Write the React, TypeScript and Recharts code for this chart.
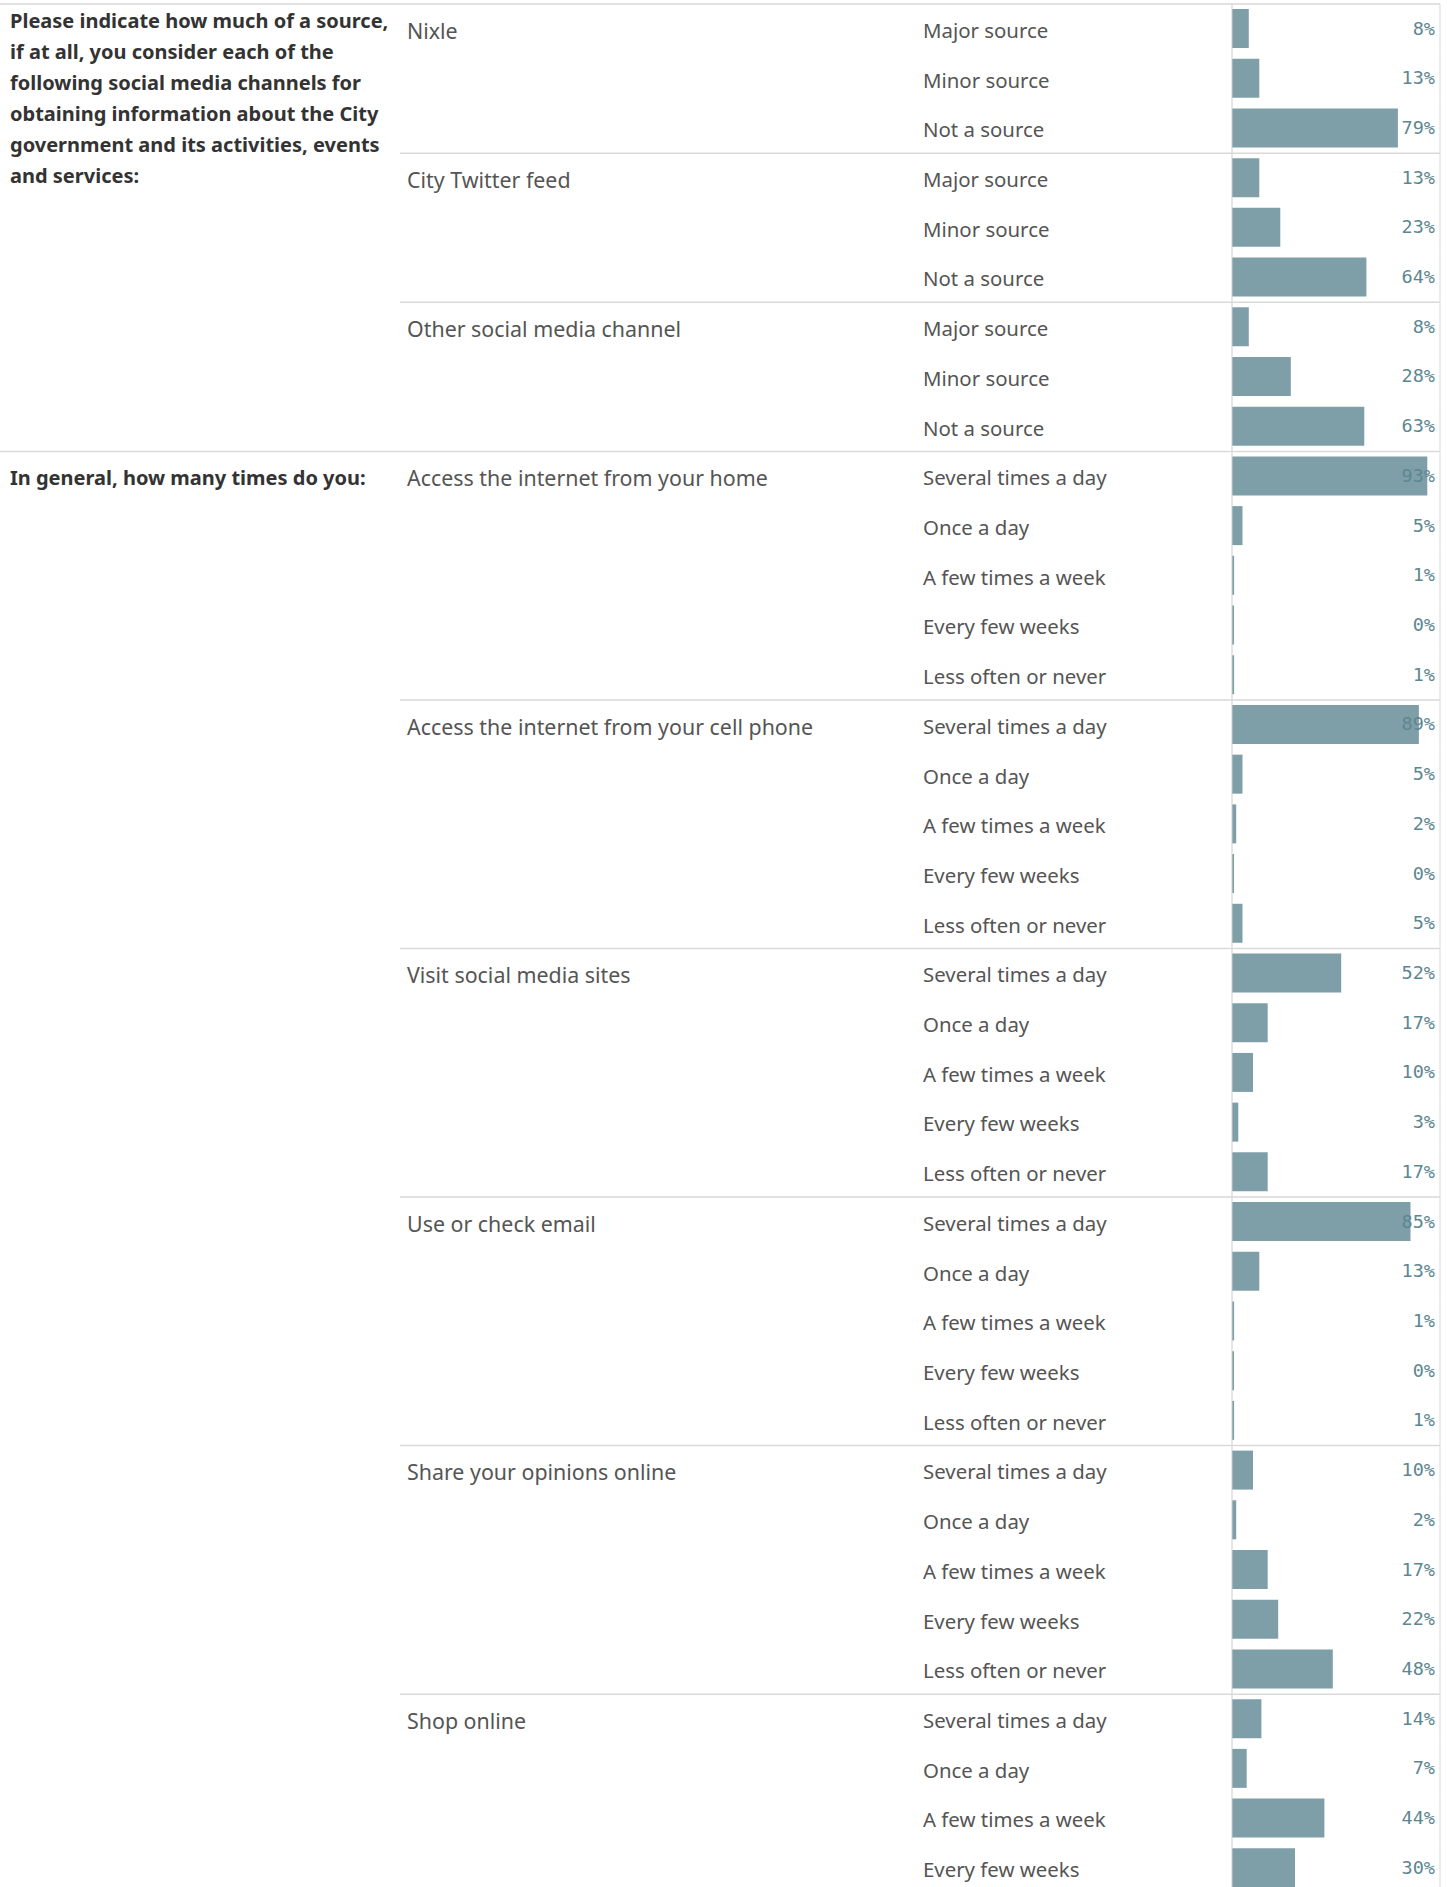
import { BarChart, Bar, XAxis, YAxis, LabelList } from "recharts";

const questionOneLines = [
  "Please indicate how much of a source,",
  "if at all, you consider each of the",
  "following social media channels for",
  "obtaining information about the City",
  "government and its activities, events",
  "and services:",
];
const questionTwoLines = ["In general, how many times do you:"];

const sourceLevels = ["Major source", "Minor source", "Not a source"];
const channels = ["Nixle", "City Twitter feed", "Other social media channel"];
const channelShares = [
  [8, 13, 79],
  [13, 23, 64],
  [8, 28, 63],
];

const frequencyLevels = [
  "Several times a day",
  "Once a day",
  "A few times a week",
  "Every few weeks",
  "Less often or never",
];
const activities = [
  "Access the internet from your home",
  "Access the internet from your cell phone",
  "Visit social media sites",
  "Use or check email",
  "Share your opinions online",
  "Shop online",
];
const activityShares = [
  [93, 5, 1, 0, 1],
  [89, 5, 2, 0, 5],
  [52, 17, 10, 3, 17],
  [85, 13, 1, 0, 1],
  [10, 2, 17, 22, 48],
  [14, 7, 44, 30],
];

type Row = {
  key: string;
  level: string;
  share: number;
  group: string | null;
  question: string[] | null;
  firstLineY: number;
};

const buildRows = (
  question: string[],
  firstLineY: number,
  groups: string[],
  levels: string[],
  shares: number[][]
): Row[] => {
  const out: Row[] = [];
  groups.forEach((group, g) => {
    shares[g].forEach((share, i) => {
      out.push({
        key: `${group}|${levels[i]}`,
        level: levels[i],
        share,
        group: i === 0 ? group : null,
        question: g === 0 && i === 0 ? question : null,
        firstLineY,
      });
    });
  });
  return out;
};

const rows: Row[] = [
  ...buildRows(questionOneLines, -1, channels, sourceLevels, channelShares),
  ...buildRows(questionTwoLines, 9, activities, frequencyLevels, activityShares),
];
const rowByKey = new Map(rows.map((r) => [r.key, r]));

const CHART_W = 1455;
const CHART_H = 1893;
const TOP = 4;
const AXIS_W = 1232;
const RIGHT_MARGIN = 13;
const ROW_H = (CHART_H - TOP) / rows.length;
const RIGHT_EDGE = 1440;
const GRID = "#d9d9d9";
const FONT = "'Noto Sans', 'Open Sans', sans-serif";

const RowTick = (props: any) => {
  const { y, payload } = props;
  const row = rowByKey.get(payload.value);
  if (!row) return null;
  const top = y - ROW_H / 2;
  return (
    <g>
      <line x1={RIGHT_EDGE} x2={RIGHT_EDGE} y1={top} y2={top + ROW_H} stroke={GRID} />
      {row.group ? (
        <line
          x1={row.question ? 0 : 400}
          x2={RIGHT_EDGE}
          y1={top}
          y2={top}
          stroke={GRID}
          strokeWidth={1.5}
        />
      ) : null}
      {row.question ? (
        <text
          x={10}
          y={y + row.firstLineY}
          fill="#333333"
          fontFamily={FONT}
          fontWeight={700}
          fontSize={20}
        >
          {row.question.map((line, i) => (
            <tspan key={i} x={10} dy={i === 0 ? 0 : 31}>
              {line}
            </tspan>
          ))}
        </text>
      ) : null}
      {row.group ? (
        <text x={407} y={y + 10} fill="#555555" fontFamily={FONT} fontSize={21.4}>
          {row.group}
        </text>
      ) : null}
      <text x={923} y={y + 9} fill="#555555" fontFamily={FONT} fontSize={20.4}>
        {row.level}
      </text>
    </g>
  );
};

const ShareLabel = (props: any) => {
  const { y, height, value } = props;
  return (
    <text
      x={1435}
      y={y + height / 2 + 6}
      textAnchor="end"
      fill="#5c8791"
      fontFamily="'DejaVu Sans Mono', monospace"
      fontSize={18.5}
    >
      {`${value}%`}
    </text>
  );
};

const App = () => {
  return (
    <div
      style={{
        position: "absolute",
        top: 0,
        left: 0,
        width: CHART_W,
        height: 1887,
        overflow: "hidden",
        background: "#ffffff",
      }}
    >
      <BarChart
        width={CHART_W}
        height={CHART_H}
        data={rows}
        layout="vertical"
        margin={{ top: TOP, right: RIGHT_MARGIN, bottom: 0, left: 0 }}
        barSize={39}
      >
        <XAxis type="number" domain={[0, 100]} hide />
        <YAxis
          type="category"
          dataKey="key"
          width={AXIS_W}
          interval={0}
          tickLine={false}
          axisLine={{ stroke: "#cccccc" }}
          tick={<RowTick />}
        />
        <Bar dataKey="share" fill="#7f9fa8" minPointSize={2} isAnimationActive={false}>
          <LabelList dataKey="share" content={<ShareLabel />} />
        </Bar>
      </BarChart>
    </div>
  );
};

export default App;
